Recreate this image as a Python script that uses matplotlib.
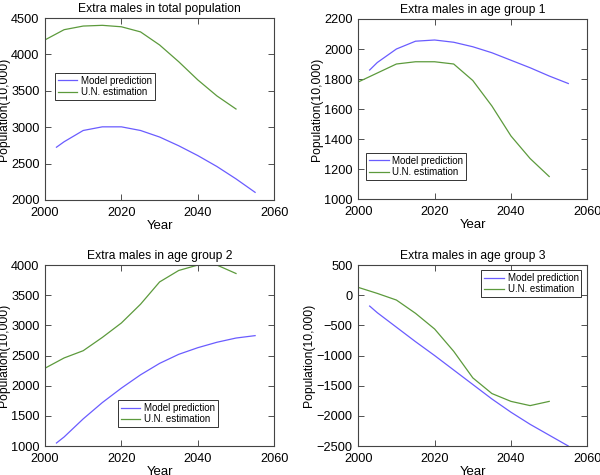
import numpy as np
import matplotlib.pyplot as plt

plt.rcParams['font.family'] = ['Liberation Sans', 'DejaVu Sans']

# years
model_years = [2003, 2005, 2010, 2015, 2020, 2025, 2030, 2035, 2040, 2045, 2050, 2055]
un_years = [2000, 2005, 2010, 2015, 2020, 2025, 2030, 2035, 2040, 2045, 2050]

# extra males (10,000)
total_model = [2725, 2800, 2955, 3005, 3005, 2955, 2865, 2745, 2610, 2460, 2290, 2105]
total_un = [4200, 4340, 4390, 4400, 4380, 4310, 4130, 3900, 3650, 3430, 3250]

g1_model = [1860, 1910, 2000, 2052, 2060, 2045, 2015, 1975, 1925, 1875, 1820, 1770]
g1_un = [1780, 1840, 1900, 1915, 1915, 1900, 1790, 1620, 1420, 1270, 1150]

g2_model = [1050, 1150, 1450, 1720, 1960, 2180, 2370, 2520, 2630, 2720, 2790, 2830]
g2_un = [2290, 2460, 2580, 2800, 3040, 3350, 3720, 3910, 4000, 4000, 3860]

g3_model = [-180, -290, -530, -770, -1000, -1240, -1480, -1720, -1940, -2140, -2320, -2500]
g3_un = [130, 30, -80, -300, -560, -930, -1370, -1630, -1760, -1830, -1760]

titles = ['Extra males in total population', 'Extra males in age group 1',
          'Extra males in age group 2', 'Extra males in age group 3']
ylims = [(2000, 4500), (1000, 2200), (1000, 4000), (-2500, 500)]
yticks = [np.arange(2000, 4501, 500), np.arange(1000, 2201, 200),
          np.arange(1000, 4001, 500), np.arange(-2500, 501, 500)]
model_data = [total_model, g1_model, g2_model, g3_model]
un_data = [total_un, g1_un, g2_un, g3_un]

# legend placement per panel
leg_loc = ['upper left', 'upper left', 'upper left', 'upper right']
leg_anchor = [(0.044, 0.70), (0.035, 0.256), (0.319, 0.254), (0.974, 0.972)]

# axes rectangles [left, bottom, width, height]
rects = [[0.075, 0.579, 0.382, 0.383], [0.597, 0.581, 0.382, 0.379],
         [0.075, 0.061, 0.382, 0.381], [0.597, 0.061, 0.382, 0.381]]

BLUE = '#6a5cff'
GREEN = '#5c9a3c'

fig = plt.figure(figsize=(6, 4.75), dpi=100)
for i in range(4):
    ax = fig.add_axes(rects[i])
    ax.plot(model_years, model_data[i], color=BLUE, lw=0.9, label='Model prediction')
    ax.plot(un_years, un_data[i], color=GREEN, lw=0.9, label='U.N. estimation')
    ax.set_xlim(2000, 2060)
    ax.set_ylim(*ylims[i])
    ax.set_xticks([2000, 2020, 2040, 2060])
    ax.set_yticks(yticks[i])
    ax.tick_params(direction='in', labelsize=9.2, length=4, width=0.6, top=True, right=True,
                   colors='#333333', labelcolor='black')
    ax.tick_params(axis='x', pad=5)
    ax.tick_params(axis='y', pad=4)
    ax.set_xlabel('Year', fontsize=9.5, labelpad=1)
    ax.set_ylabel('Population(10,000)', fontsize=8.7, labelpad=1)
    ax.set_title(titles[i], fontsize=8.7, pad=4)
    for s in ax.spines.values():
        s.set_color('#444444')
        s.set_linewidth(0.8)
    leg = ax.legend(loc=leg_loc[i], bbox_to_anchor=leg_anchor[i], fontsize=7,
                    fancybox=False, edgecolor='#333333', framealpha=1,
                    handlelength=2.0, borderpad=0.3, labelspacing=0.15,
                    handletextpad=0.4, borderaxespad=0)
    leg.get_frame().set_linewidth(0.7)

fig.savefig('out.png', dpi=100)
